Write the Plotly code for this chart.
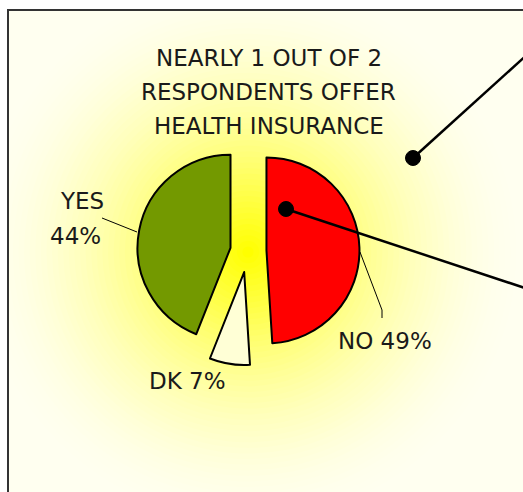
import plotly.graph_objects as go

OFF = 0
W, H = 523, 492

# ---- data ----
labels = ["NO", "DK", "YES"]
values = [49, 7, 44]
colors = ["#FF0000", "#FFFFD6", "#739900"]
pulls = [0.204, 0.229, 0.186]
title_lines = ["NEARLY 1 OUT OF 2", "RESPONDENTS OFFER", "HEALTH INSURANCE"]


def px(x):
    return (x - OFF) / W


def py(y):
    return 1 - (y - OFF) / H


# pie placement (page pixels): centre (247.5, 251), radius ~93
pcx, pcy, pr = 247.5, 251, 93
dim = pr * (2 + 2 * max(pulls))
dom_x = [px(pcx - 130), px(pcx + 130)]
dom_y = [py(pcy + dim / 2), py(pcy - dim / 2)]

fig = go.Figure()
fig.add_trace(go.Pie(
    labels=labels,
    values=values,
    sort=False,
    direction="clockwise",
    rotation=0,
    pull=pulls,
    marker=dict(colors=colors, line=dict(color="#000000", width=2)),
    textinfo="none",
    hoverinfo="label+percent",
    showlegend=False,
    domain=dict(x=dom_x, y=dom_y),
))

shapes = []
# box background
shapes.append(dict(type="rect", xref="paper", yref="paper", layer="below",
                   x0=px(8), x1=px(560), y0=py(560), y1=py(10),
                   fillcolor="#FFFFF0", line=dict(width=0)))
# radial yellow glow
cx, cy, R, N = 248, 252, 280, 50
prevA = 0.0
for k in range(N):
    r = R * (1 - k / N)
    rmid = R * (1 - (k + 0.5) / N)
    A = (1 - rmid / R) ** 1.8
    if k == N - 1:
        A = 1.0
    a = 1 - (1 - A) / (1 - prevA) if prevA < 1 else 0
    prevA = A
    shapes.append(dict(type="circle", xref="paper", yref="paper", layer="below",
                       x0=px(cx - r), x1=px(cx + r), y0=py(cy + r), y1=py(cy - r),
                       fillcolor=f"rgba(255,255,0,{a:.4f})", line=dict(width=0)))
# white outside the box (covers glow spill)
shapes.append(dict(type="rect", xref="paper", yref="paper", layer="below",
                   x0=px(-10), x1=px(8), y0=py(560), y1=py(-10),
                   fillcolor="#FFFFFF", line=dict(width=0)))
shapes.append(dict(type="rect", xref="paper", yref="paper", layer="below",
                   x0=px(-10), x1=px(560), y0=py(10), y1=py(-10),
                   fillcolor="#FFFFFF", line=dict(width=0)))
# box border
shapes.append(dict(type="rect", xref="paper", yref="paper", layer="below",
                   x0=px(8), x1=px(560), y0=py(560), y1=py(10),
                   fillcolor="rgba(0,0,0,0)", line=dict(color="#333333", width=2)))

# leader lines
shapes.append(dict(type="line", xref="paper", yref="paper",
                   x0=px(102), y0=py(218), x1=px(137), y1=py(232),
                   line=dict(color="#000", width=1)))
shapes.append(dict(type="path", xref="paper", yref="paper",
                   path=f"M {px(360)},{py(252)} L {px(382)},{py(310)} L {px(382)},{py(318)}",
                   line=dict(color="#000", width=1)))
# callout lines with dots
shapes.append(dict(type="line", xref="paper", yref="paper",
                   x0=px(413), y0=py(158), x1=px(540), y1=py(43),
                   line=dict(color="#000", width=2.5)))
shapes.append(dict(type="line", xref="paper", yref="paper",
                   x0=px(286), y0=py(209), x1=px(540), y1=py(293),
                   line=dict(color="#000", width=2.5)))
for (dx, dy) in [(413, 158), (286, 209)]:
    rr = 7.5
    shapes.append(dict(type="circle", xref="paper", yref="paper",
                       x0=px(dx - rr), x1=px(dx + rr), y0=py(dy + rr), y1=py(dy - rr),
                       fillcolor="#000", line=dict(color="#000", width=1)))

font = dict(family="DejaVu Sans", color="#1a1a1a")
ann = []
for t, yy in zip(title_lines, [58, 92, 126]):
    ann.append(dict(text=t, x=px(268.5), y=py(yy), xref="paper", yref="paper",
                    showarrow=False, xanchor="center", yanchor="middle",
                    font=dict(size=23, **font)))

lab = dict(zip(labels, values))
LS = 23
ann.append(dict(text="YES", x=px(81.5), y=py(201), xref="paper", yref="paper",
                showarrow=False, xanchor="center", yanchor="middle", font=dict(size=LS, **font)))
ann.append(dict(text=f"{lab['YES']}%", x=px(75), y=py(236), xref="paper", yref="paper",
                showarrow=False, xanchor="center", yanchor="middle", font=dict(size=LS, **font)))
ann.append(dict(text=f"NO {lab['NO']}%", x=px(384.5), y=py(341), xref="paper", yref="paper",
                showarrow=False, xanchor="center", yanchor="middle", font=dict(size=LS, **font)))
ann.append(dict(text=f"DK {lab['DK']}%", x=px(187.5), y=py(380.5), xref="paper", yref="paper",
                showarrow=False, xanchor="center", yanchor="middle", font=dict(size=LS, **font)))

fig.update_layout(
    width=W, height=H,
    margin=dict(l=0, r=0, t=0, b=0),
    paper_bgcolor="#FFFFFF",
    plot_bgcolor="rgba(0,0,0,0)",
    shapes=shapes,
    annotations=ann,
    showlegend=False,
)

fig.write_html(
    "out.html",
    config={"displayModeBar": False},
    post_script="document.body.style.margin='0';document.documentElement.style.overflow='hidden';",
)
